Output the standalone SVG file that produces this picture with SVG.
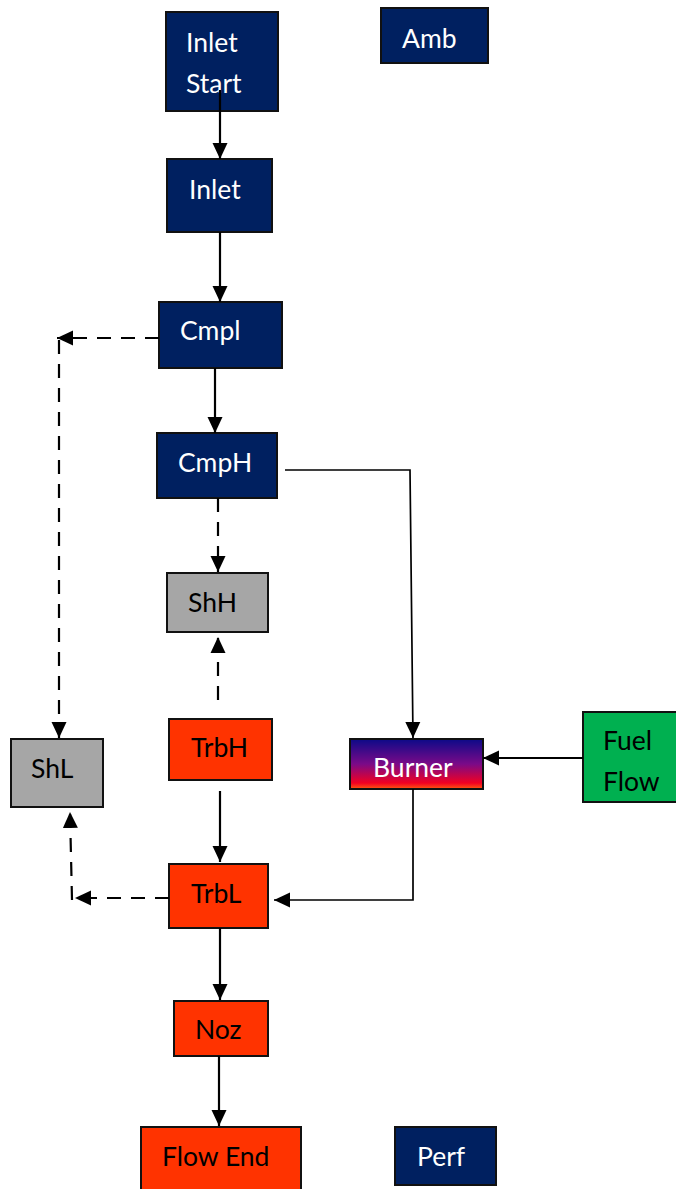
<svg xmlns="http://www.w3.org/2000/svg" width="676" height="1189" viewBox="0 0 676 1189">
<style>
.box{stroke:#111;stroke-width:2}
.navy{fill:#002060}
.red{fill:#FF3300}
.gray{fill:#A6A6A6}
.green{fill:#00B050}
text{font-family:Lato,"Open Sans",sans-serif;font-size:26.5px}
.w{fill:#fff}
.k{fill:#000}
.c{fill:none;stroke:#000;stroke-width:2.2}
.thin{stroke-width:1.7}
.d{stroke-dasharray:14 10}
</style>
<defs>
<marker id="ah" markerUnits="userSpaceOnUse" markerWidth="18" markerHeight="18" viewBox="0 0 18 18" refX="16" refY="9" orient="auto">
<path d="M0,1.5 L16,9 L0,16.5 Z" fill="#000"/>
</marker>
<linearGradient id="burn" x1="0" y1="0" x2="0" y2="1">
<stop offset="0" stop-color="#0c0a88"/>
<stop offset="0.5" stop-color="#7a0a88"/>
<stop offset="0.88" stop-color="#f20022"/>
<stop offset="1" stop-color="#ff5a10"/>
</linearGradient>
</defs>

<g id="inlet-start"><rect class="box navy" x="166" y="12" width="112" height="99"/><text class="w" x="186" y="52">Inlet</text><text class="w" x="186" y="93">Start</text></g>
<g id="amb"><rect class="box navy" x="381" y="8" width="107" height="55"/><text class="w" x="402" y="48">Amb</text></g>
<g id="inlet"><rect class="box navy" x="167" y="159" width="105" height="73"/><text class="w" x="189" y="199">Inlet</text></g>
<g id="cmpl"><rect class="box navy" x="159" y="302" width="123" height="66"/><text class="w" x="180" y="340">Cmpl</text></g>
<g id="cmph"><rect class="box navy" x="157" y="433" width="120" height="65"/><text class="w" x="178" y="472">CmpH</text></g>
<g id="shh"><rect class="box gray" x="167" y="573" width="101" height="59"/><text class="k" x="188" y="612">ShH</text></g>
<g id="trbh"><rect class="box red" x="169" y="719" width="103" height="61"/><text class="k" x="191" y="757">TrbH</text></g>
<g id="shl"><rect class="box gray" x="11" y="739" width="92" height="68"/><text class="k" x="31" y="778">ShL</text></g>
<g id="burner"><rect class="box" fill="url(#burn)" x="350" y="739" width="133" height="50"/><text class="w" x="373" y="777">Burner</text></g>
<g id="fuel-flow"><rect class="box green" x="583" y="712" width="100" height="90"/><text class="k" x="603" y="750">Fuel</text><text class="k" x="603" y="791">Flow</text></g>
<g id="trbl"><rect class="box red" x="169" y="864" width="99" height="64"/><text class="k" x="191" y="903">TrbL</text></g>
<g id="noz"><rect class="box red" x="174" y="1001" width="94" height="55"/><text class="k" x="195" y="1039">Noz</text></g>
<g id="flow-end"><rect class="box red" x="141" y="1127" width="160" height="70"/><text class="k" x="162" y="1166">Flow End</text></g>
<g id="perf"><rect class="box navy" x="395" y="1127" width="101" height="58"/><text class="w" x="417" y="1166">Perf</text></g>

<g id="connectors">
<path class="c" d="M220,90 V159" marker-end="url(#ah)"/>
<path class="c" d="M220,232 V302" marker-end="url(#ah)"/>
<path class="c" d="M215,368 V433" marker-end="url(#ah)"/>
<path class="c d" d="M159,338 H57" marker-end="url(#ah)"/>
<path class="c d" d="M59,340 V738" marker-end="url(#ah)"/>
<path class="c d" d="M218,498 V572" marker-end="url(#ah)"/>
<path class="c d" d="M218,700 V637" marker-end="url(#ah)"/>
<path class="c thin" d="M285,470 H410 L413,738" marker-end="url(#ah)"/>
<path class="c" d="M583,758 H483" marker-end="url(#ah)"/>
<path class="c thin" d="M413,789 V900 H274" marker-end="url(#ah)"/>
<path class="c" d="M220,791 V862" marker-end="url(#ah)"/>
<path class="c d" d="M169,898 H75" marker-end="url(#ah)"/>
<path class="c d" d="M72,900 L70,812" marker-end="url(#ah)"/>
<path class="c" d="M220,928 V1000" marker-end="url(#ah)"/>
<path class="c" d="M219,1056 V1126" marker-end="url(#ah)"/>
</g>
</svg>
